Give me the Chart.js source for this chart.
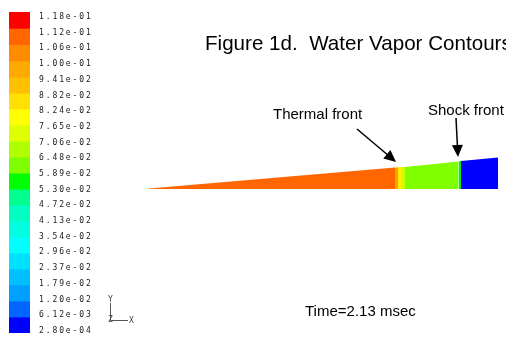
<!DOCTYPE html>
<html><head><meta charset="utf-8">
<script src="https://cdn.jsdelivr.net/npm/chart.js@4"></script>
<style>
html,body{margin:0;padding:0;background:#fff;}
#wrap{position:relative;width:506px;height:339px;overflow:hidden;background:#fff;}
canvas{position:absolute;left:0;top:0;}
</style></head><body>
<div id="wrap"><canvas id="main" width="506" height="339"></canvas><canvas id="bar" width="110" height="339"></canvas></div>
<script>
// ---- colour legend (top to bottom) ----
const legendLabels = ['1.18e-01','1.12e-01','1.06e-01','1.00e-01','9.41e-02','8.82e-02','8.24e-02','7.65e-02','7.06e-02','6.48e-02','5.89e-02','5.30e-02','4.72e-02','4.13e-02','3.54e-02','2.96e-02','2.37e-02','1.79e-02','1.20e-02','6.12e-03','2.80e-04'];
const legendValues = legendLabels.map(Number);
const legendColors = ['#ff0000','#ff6600','#ff8c00','#ffaa00','#ffc000','#ffe000','#ffff00','#ddff00','#b0ff00','#80ff00','#00ff00','#00ff90','#00ffc0','#00ffe0','#00ffff','#00e0ff','#00c0ff','#00a0ff','#0066ff','#0000ff'];

// ---- wedge contour zones (position along wedge, local thickness at zone boundaries) ----
const zoneX   = [0, 24.6, 24.9, 25.3, 25.6, 30.95, 31.2, 34.9];
const zoneTop = [0.05, 2.15, 2.17, 2.19, 2.21, 2.75, 2.8, 3.15];
const zoneColors = ['#ff6600','#ffa000','#ffee00','#c8ff00','#80ff00','#00ee20','#0000ff'];

const W = 506, H = 339, pxPerUnit = 10, origin = {x:149, y:189};

const zoneDatasets = zoneColors.map((c,i)=>({
  data:[{x:zoneX[i], y:zoneTop[i]}, {x:zoneX[i+1], y:zoneTop[i+1]}],
  showLine:true, fill:'origin', backgroundColor:c, borderColor:c, borderWidth:0,
  pointRadius:0, tension:0
}));

function arrow(ctx, x1, y1, x2, y2){
  const a = Math.atan2(y2-y1, x2-x1), L = 12, hw = 5.5;
  ctx.beginPath(); ctx.moveTo(x1,y1);
  ctx.lineTo(x2 - L*0.8*Math.cos(a), y2 - L*0.8*Math.sin(a)); ctx.stroke();
  ctx.beginPath(); ctx.moveTo(x2,y2);
  ctx.lineTo(x2 - L*Math.cos(a) + hw*Math.sin(a), y2 - L*Math.sin(a) - hw*Math.cos(a));
  ctx.lineTo(x2 - L*Math.cos(a) - hw*Math.sin(a), y2 - L*Math.sin(a) + hw*Math.cos(a));
  ctx.closePath(); ctx.fill();
}

const annot = {
  id:'annot',
  afterDraw(chart){
    const ctx = chart.ctx; ctx.save();
    ctx.fillStyle = '#000'; ctx.strokeStyle = '#000'; ctx.textBaseline = 'alphabetic';
    ctx.font = '20.6px "Liberation Sans", Arial, sans-serif';
    ctx.fillText('Figure 1d.  Water Vapor Contours', 205, 50);
    ctx.font = '15px "Liberation Sans", Arial, sans-serif';
    ctx.fillText('Thermal front', 273, 119);
    ctx.fillText('Shock front', 428, 115);
    ctx.fillText('Time=2.13 msec', 305, 316);
    ctx.lineWidth = 1.5;
    arrow(ctx, 357, 129, 396, 162);
    arrow(ctx, 456, 118, 458, 157);
    // axis triad
    ctx.strokeStyle = '#555'; ctx.fillStyle = '#444'; ctx.lineWidth = 1;
    ctx.beginPath(); ctx.moveTo(110.5, 303); ctx.lineTo(110.5, 320.5); ctx.lineTo(128, 320.5); ctx.stroke();
    ctx.font = '8px "DejaVu Sans Mono", monospace';
    ctx.fillText('Y', 108, 302); ctx.fillText('Z', 108, 322); ctx.fillText('X', 129, 323);
    ctx.restore();
  }
};

new Chart(document.getElementById('main'), {
  type:'scatter',
  data:{datasets: zoneDatasets},
  options:{
    responsive:false, animation:false, devicePixelRatio:1,
    layout:{padding:0},
    plugins:{legend:{display:false}, tooltip:{enabled:false}},
    scales:{
      x:{type:'linear', display:false, min:-origin.x/pxPerUnit, max:(W-origin.x)/pxPerUnit},
      y:{type:'linear', display:false, min:-(H-origin.y)/pxPerUnit, max:origin.y/pxPerUnit}
    }
  },
  plugins:[annot]
});

const spacing = {id:'spacing', beforeDraw(chart){ chart.ctx.letterSpacing = '1.9px'; }};

new Chart(document.getElementById('bar'), {
  type:'bar',
  data:{labels:[''], datasets: legendColors.map((c,i)=>({
    data:[[legendValues[i+1], legendValues[i]]], backgroundColor:c, borderWidth:0,
    barPercentage:1, categoryPercentage:1, grouped:false
  }))},
  options:{
    responsive:false, animation:false, devicePixelRatio:1,
    layout:{padding:{left:9, top:12, bottom:6, right:0}},
    plugins:{legend:{display:false}, tooltip:{enabled:false}},
    scales:{
      x:{display:false},
      y:{display:false, min:legendValues[20], max:legendValues[0]},
      y2:{position:'right', min:-0.14, max:20.32,
        grid:{display:false, drawTicks:false}, border:{display:false},
        afterBuildTicks: s => { s.ticks = legendLabels.map((l,i)=>({value:20-i})); },
        afterFit: s => { s.width = 80; s.paddingTop = 0; s.paddingBottom = 0; },
        ticks:{padding:9, color:'#1a1a1a', autoSkip:false,
          font:{family:'"DejaVu Sans Mono", monospace', size:8},
          callback:(v)=> legendLabels[20-v]}
      }
    }
  },
  plugins:[spacing]
});
</script>
</body></html>
